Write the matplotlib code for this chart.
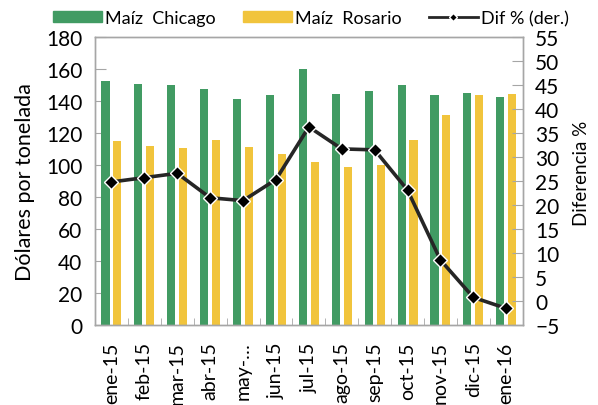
import numpy as np
import matplotlib
matplotlib.use("Agg")
import matplotlib.pyplot as plt
from matplotlib.lines import Line2D
from matplotlib.patches import Patch

plt.rcParams['font.family'] = ['Lato', 'DejaVu Sans']

# data
meses = ["ene-15", "feb-15", "mar-15", "abr-15", "may-…", "jun-15", "jul-15",
         "ago-15", "sep-15", "oct-15", "nov-15", "dic-15", "ene-16"]
chicago = [152.6, 151.0, 150.4, 147.4, 141.2, 143.7, 160.0,
           144.7, 146.4, 150.4, 144.1, 145.3, 142.4]
rosario = [115.0, 112.1, 110.4, 115.4, 111.5, 106.6, 101.8,
           98.5, 99.9, 115.6, 131.5, 144.1, 144.7]
dif_pct = [24.8, 25.7, 26.6, 21.5, 20.9, 25.3, 36.3,
           31.7, 31.5, 23.1, 8.5, 0.7, -1.6]

GREEN = "#419B63"
YELLOW = "#F1C43C"
FRAME = "#A6A6A6"

fig = plt.figure(figsize=(5.98, 4.06), dpi=100)
ax = fig.add_axes([95 / 598, 1 - 325.7 / 406, (522.7 - 95) / 598, (325.7 - 38.3) / 406])
ax2 = ax.twinx()

x = np.arange(len(meses))
w = 0.245
ax.bar(x - 0.18, chicago, w, color=GREEN, zorder=2)
ax.bar(x + 0.18, rosario, w, color=YELLOW, zorder=2)

ax2.plot(x, dif_pct, color="#262626", lw=2.6, marker="D", ms=7.5,
         mfc="black", mec="white", mew=1.0, zorder=3)

ax.set_xlim(-0.5, len(meses) - 0.5)
ax.set_ylim(0, 180)
ax.set_yticks(np.arange(0, 181, 20))
ax2.set_ylim(-5, 55)
ax2.set_yticks(np.arange(-5, 56, 5))

ax.set_xticks(x)
ax.set_xticklabels(meses, rotation=90, fontsize=14)
ax.set_xticks(np.arange(-0.5, len(meses), 1), minor=True)
ax.tick_params(axis="x", which="major", length=0, pad=12)
ax.tick_params(axis="x", which="minor", direction="in", length=5, color=FRAME)
ax.tick_params(axis="y", direction="in", length=8, color=FRAME, labelsize=15, pad=9)
ax2.tick_params(axis="y", direction="in", length=8, color=FRAME, labelsize=15, pad=9)

for a in (ax, ax2):
    for s in a.spines.values():
        s.set_color(FRAME)
        s.set_linewidth(1.0)

ax.set_ylabel("Dólares por tonelada", fontsize=15.5)
ax.yaxis.set_label_coords(-0.14, 0.5)
ax2.set_ylabel("Diferencia %", fontsize=13.5)
ax2.yaxis.set_label_coords(1.118, 0.53)

handles = [Patch(color=GREEN), Patch(color=YELLOW),
           Line2D([0], [0], color="#262626", lw=2, marker="D", ms=4,
                  mfc="black", mec="white")]
fig.legend(handles, ["Maíz  Chicago", "Maíz  Rosario", "Dif % (der.)"],
           loc="center", bbox_to_anchor=(311 / 598, 1 - 19 / 406), ncol=3,
           frameon=False, fontsize=13, handlelength=2.7, handleheight=0.6,
           handletextpad=0.2, columnspacing=1.5)

fig.savefig("out.png", dpi=100)
